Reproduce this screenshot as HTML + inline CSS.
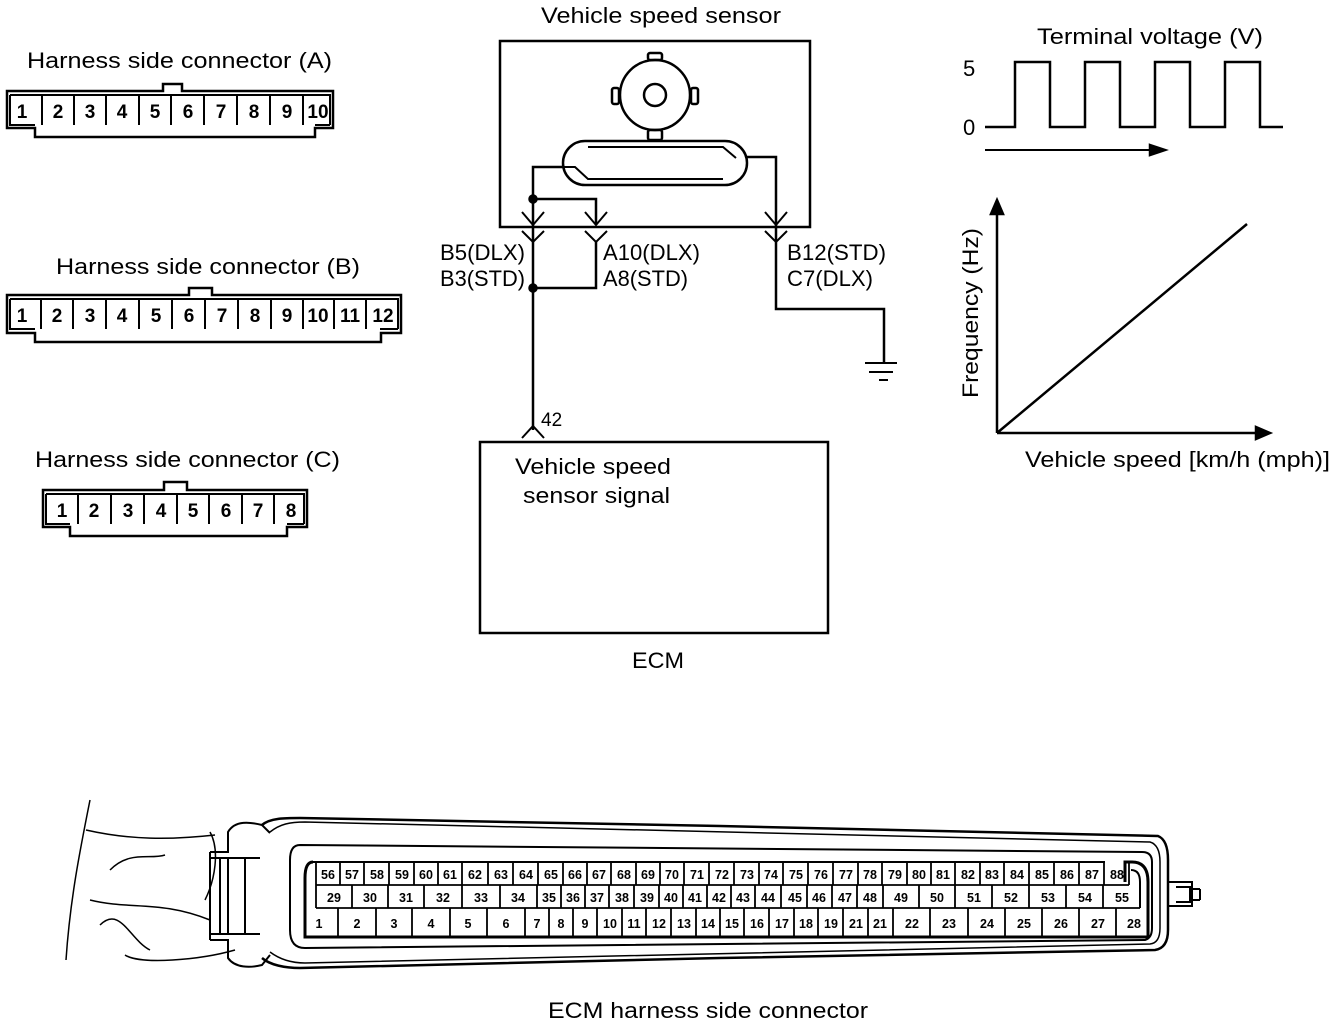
<!DOCTYPE html>
<html><head><meta charset="utf-8"><style>
html,body{margin:0;padding:0;background:#fff}
svg{display:block}
text{font-family:"Liberation Sans",Arial,sans-serif;fill:#000}
.t{font-size:22px}
.p{font-size:19px;font-weight:bold;text-anchor:middle}
.e{font-size:12.5px;font-weight:bold;text-anchor:middle}
</style></head><body>
<svg width="1344" height="1026" viewBox="0 0 1344 1026" xmlns="http://www.w3.org/2000/svg">
<g fill="none" stroke="#000" stroke-width="2.5">
<path d="M7 91 H163 V84 H182 V91 H333 V128 H315 V137 H35 V128 H7 Z"/>
<path d="M10 95 H330 V125 M10 95 V125 H35 M315 125 H330" stroke-width="2"/>
<path d="M42 95V125 M74 95V125 M106 95V125 M139 95V125 M171 95V125 M204 95V125 M237 95V125 M270 95V125 M303 95V125" stroke-width="2"/>
<path d="M7 295 H189 V288 H212 V295 H401 V333 H381 V342 H35 V333 H7 Z"/>
<path d="M10 299 H398 V329 M10 299 V329 H35 M380 329 H398" stroke-width="2"/>
<path d="M41 299V329 M73 299V329 M106 299V329 M139 299V329 M172 299V329 M205 299V329 M238 299V329 M271 299V329 M303 299V329 M334 299V329 M366 299V329" stroke-width="2"/>
<path d="M43 490 H164 V482 H187 V490 H307 V527 H287 V536 H70 V527 H43 Z"/>
<path d="M46 494 H304 V524 M46 494 V524 H70 M287 524 H304" stroke-width="2"/>
<path d="M78 494V524 M111 494V524 M144 494V524 M177 494V524 M209 494V524 M242 494V524 M274 494V524" stroke-width="2"/>

<rect x="500" y="41" width="310" height="186"/>
<circle cx="655" cy="95" r="35"/>
<circle cx="655" cy="95" r="11"/>
<rect x="648" y="53" width="14" height="7" rx="2"/>
<rect x="612" y="88" width="7" height="16" rx="2"/>
<rect x="691" y="88" width="7" height="16" rx="2"/>
<rect x="648" y="130" width="14" height="10" rx="2"/>
<rect x="563" y="141" width="184" height="44" rx="22"/>
<path d="M588 147 H723 L736 158 M563 167 H575 L588 179 H723" stroke-width="2"/>
<path d="M563 167 H533 V288 M533 199 H596 V225 M747 157 H776 V309 H884 V363"/>
<circle cx="533" cy="199" r="3.5" fill="#000"/>
<circle cx="533" cy="288" r="3.5" fill="#000"/>
<path d="M522 212 L533 225 L544 212 M522 231 L533 242 L544 231 M585 212 L596 225 L607 212 M585 231 L596 242 L607 231 M765 212 L776 225 L787 212 M765 231 L776 242 L787 231" stroke-width="2"/>
<path d="M596 242 V288 H533 M533 288 V430"/>
<path d="M522 438 L533 426 L544 438" stroke-width="2"/>
<path d="M865 363 H897 M869 372 H893 M879 380 H888" stroke-width="2"/>
<rect x="480" y="442" width="348" height="191"/>

<path d="M985 127 H1015 V62 H1050 V127 H1085 V62 H1120 V127 H1155 V62 H1190 V127 H1225 V62 H1260 V127 H1283"/>
<path d="M985 150 H1158" stroke-width="2"/>
<path d="M1150 145 L1165 150 L1150 155 Z" fill="#000"/>
<path d="M997 433 V208 M997 433 H1262 M997 433 L1247 224"/>
<path d="M991 214 L997 200 L1003 214 Z M1256 427 L1270 433 L1256 439 Z" fill="#000"/>

<path d="M90 800 C80 850 70 900 66 960 M86 830 C130 840 170 840 215 835 M90 900 C130 910 160 900 210 920 M110 870 C130 850 150 860 165 855 M100 925 C120 905 130 940 150 950 M210 832 C220 850 215 880 205 900 M125 955 C140 965 200 960 235 950" stroke-width="1.5"/>
<path d="M210 852 H228 V832 C235 820 250 822 262 825 L270 833 M210 940 H228 V958 C235 968 250 968 262 965 L270 955" stroke-width="2"/>
<path d="M210 852 V940 M220 858 V934 M228 858 V934 M210 858 H260 M210 934 H260 M245 858 V934" stroke-width="2"/>
<path d="M262 825 C270 818 285 818 300 818 L720 826 L1158 836 Q1168 840 1168 860 V930 Q1168 948 1155 950 L720 958 L300 968 C285 968 270 965 262 958" stroke-width="2.5"/>
<path d="M270 832 C280 824 290 822 305 822 L1150 842 Q1160 845 1160 862 V928 Q1160 943 1150 944 L305 963 C290 963 278 958 270 952" stroke-width="1.5"/>
<path d="M300 845 Q290 845 290 860 V930 Q290 948 305 948 L1145 940 Q1152 938 1152 928 V862 Q1152 852 1142 852 Z" stroke-width="2"/>
<path d="M1168 882 H1192 V889 H1200 M1168 906 H1192 V900 H1200 M1192 889 V900 M1200 889 V900 M1176 887 H1190 V902 H1176" stroke-width="2"/>
<path d="M313 862 Q305 862 305 878 V937 H1148 V882 Q1148 862 1132 862 H1125 V882" stroke-width="3"/>
<path d="M313 862 H1105 M1131 870 Q1140 870 1140 882 V908" stroke-width="2"/>
</g>

<g fill="none" stroke="#000" stroke-width="1.8">
<path d="M316 862 V885 M340 862V885 M364 862V885 M389 862V885 M414 862V885 M438 862V885 M462 862V885 M488 862V885 M513 862V885 M538 862V885 M563 862V885 M587 862V885 M611 862V885 M636 862V885 M660 862V885 M684 862V885 M709 862V885 M734 862V885 M759 862V885 M783 862V885 M808 862V885 M833 862V885 M858 862V885 M882 862V885 M907 862V885 M931 862V885 M955 862V885 M980 862V885 M1004 862V885 M1029 862V885 M1054 862V885 M1079 862V885 M1104 862V885 M1129 862V885"/>
<path d="M316 885 H1129 M316 908 H1140"/>
<path d="M316 885V908 M352 885V908 M388 885V908 M424 885V908 M462 885V908 M500 885V908 M537 885V908 M561 885V908 M585 885V908 M609 885V908 M634 885V908 M659 885V908 M683 885V908 M707 885V908 M731 885V908 M755 885V908 M781 885V908 M807 885V908 M832 885V908 M857 885V908 M883 885V908 M919 885V908 M955 885V908 M992 885V908 M1029 885V908 M1066 885V908 M1103 885V908"/>
<path d="M338 908V937 M376 908V937 M412 908V937 M450 908V937 M487 908V937 M525 908V937 M549 908V937 M573 908V937 M597 908V937 M622 908V937 M646 908V937 M671 908V937 M696 908V937 M720 908V937 M744 908V937 M769 908V937 M794 908V937 M818 908V937 M843 908V937 M868 908V937 M893 908V937 M930 908V937 M968 908V937 M1005 908V937 M1042 908V937 M1079 908V937 M1116 908V937"/>
</g>

<text class="t" x="27" y="68" textLength="305" lengthAdjust="spacingAndGlyphs">Harness side connector (A)</text>
<text class="t" x="56" y="274" textLength="304" lengthAdjust="spacingAndGlyphs">Harness side connector (B)</text>
<text class="t" x="35" y="467" textLength="305" lengthAdjust="spacingAndGlyphs">Harness side connector (C)</text>
<g class="p">
<text x="22" y="118">1</text><text x="58" y="118">2</text><text x="90" y="118">3</text><text x="122" y="118">4</text><text x="155" y="118">5</text><text x="188" y="118">6</text><text x="221" y="118">7</text><text x="254" y="118">8</text><text x="287" y="118">9</text><text x="318" y="118">10</text>
<text x="22" y="322">1</text><text x="57" y="322">2</text><text x="90" y="322">3</text><text x="122" y="322">4</text><text x="156" y="322">5</text><text x="189" y="322">6</text><text x="222" y="322">7</text><text x="255" y="322">8</text><text x="287" y="322">9</text><text x="318" y="322">10</text><text x="350" y="322">11</text><text x="383" y="322">12</text>
<text x="62" y="517">1</text><text x="94" y="517">2</text><text x="128" y="517">3</text><text x="161" y="517">4</text><text x="193" y="517">5</text><text x="226" y="517">6</text><text x="258" y="517">7</text><text x="291" y="517">8</text>
</g>
<text class="t" x="541" y="23" textLength="240" lengthAdjust="spacingAndGlyphs">Vehicle speed sensor</text>
<text class="t" x="440" y="260" textLength="85" lengthAdjust="spacingAndGlyphs">B5(DLX)</text>
<text class="t" x="440" y="286" textLength="85" lengthAdjust="spacingAndGlyphs">B3(STD)</text>
<text class="t" x="603" y="260" textLength="97" lengthAdjust="spacingAndGlyphs">A10(DLX)</text>
<text class="t" x="603" y="286" textLength="85" lengthAdjust="spacingAndGlyphs">A8(STD)</text>
<text class="t" x="787" y="260" textLength="99" lengthAdjust="spacingAndGlyphs">B12(STD)</text>
<text class="t" x="787" y="286" textLength="86" lengthAdjust="spacingAndGlyphs">C7(DLX)</text>
<text class="t" x="541" y="426" style="font-size:19px">42</text>
<text class="t" x="515" y="474" textLength="156" lengthAdjust="spacingAndGlyphs">Vehicle speed</text>
<text class="t" x="523" y="503" textLength="147" lengthAdjust="spacingAndGlyphs">sensor signal</text>
<text class="t" x="632" y="668" textLength="52" lengthAdjust="spacingAndGlyphs">ECM</text>
<text class="t" x="1037" y="44" textLength="226" lengthAdjust="spacingAndGlyphs">Terminal voltage (V)</text>
<text class="t" x="963" y="76">5</text>
<text class="t" x="963" y="135">0</text>
<text class="t" x="0" y="0" textLength="170" lengthAdjust="spacingAndGlyphs" transform="translate(978 398) rotate(-90)">Frequency (Hz)</text>
<text class="t" x="1025" y="467" textLength="305" lengthAdjust="spacingAndGlyphs">Vehicle speed [km/h (mph)]</text>
<text class="t" x="548" y="1018" textLength="320" lengthAdjust="spacingAndGlyphs">ECM harness side connector</text>

<g class="e">
<text x="328" y="879">56</text><text x="352" y="879">57</text><text x="377" y="879">58</text><text x="402" y="879">59</text><text x="426" y="879">60</text><text x="450" y="879">61</text><text x="475" y="879">62</text><text x="501" y="879">63</text><text x="526" y="879">64</text><text x="551" y="879">65</text><text x="575" y="879">66</text><text x="599" y="879">67</text><text x="624" y="879">68</text><text x="648" y="879">69</text><text x="672" y="879">70</text><text x="697" y="879">71</text><text x="722" y="879">72</text><text x="747" y="879">73</text><text x="771" y="879">74</text><text x="796" y="879">75</text><text x="821" y="879">76</text><text x="846" y="879">77</text><text x="870" y="879">78</text><text x="895" y="879">79</text><text x="919" y="879">80</text><text x="943" y="879">81</text><text x="968" y="879">82</text><text x="992" y="879">83</text><text x="1017" y="879">84</text><text x="1042" y="879">85</text><text x="1067" y="879">86</text><text x="1092" y="879">87</text><text x="1117" y="879">88</text>
<text x="334" y="902">29</text><text x="370" y="902">30</text><text x="406" y="902">31</text><text x="443" y="902">32</text><text x="481" y="902">33</text><text x="518" y="902">34</text><text x="549" y="902">35</text><text x="573" y="902">36</text><text x="597" y="902">37</text><text x="622" y="902">38</text><text x="647" y="902">39</text><text x="671" y="902">40</text><text x="695" y="902">41</text><text x="719" y="902">42</text><text x="743" y="902">43</text><text x="768" y="902">44</text><text x="795" y="902">45</text><text x="819" y="902">46</text><text x="845" y="902">47</text><text x="870" y="902">48</text><text x="901" y="902">49</text><text x="937" y="902">50</text><text x="974" y="902">51</text><text x="1011" y="902">52</text><text x="1048" y="902">53</text><text x="1085" y="902">54</text><text x="1122" y="902">55</text>
<text x="319" y="928">1</text><text x="357" y="928">2</text><text x="394" y="928">3</text><text x="431" y="928">4</text><text x="468" y="928">5</text><text x="506" y="928">6</text><text x="537" y="928">7</text><text x="561" y="928">8</text><text x="585" y="928">9</text><text x="610" y="928">10</text><text x="634" y="928">11</text><text x="659" y="928">12</text><text x="684" y="928">13</text><text x="708" y="928">14</text><text x="732" y="928">15</text><text x="757" y="928">16</text><text x="782" y="928">17</text><text x="806" y="928">18</text><text x="831" y="928">19</text><text x="856" y="928">21</text><text x="880" y="928">21</text><text x="912" y="928">22</text><text x="949" y="928">23</text><text x="987" y="928">24</text><text x="1024" y="928">25</text><text x="1061" y="928">26</text><text x="1098" y="928">27</text><text x="1134" y="928">28</text>
</g>
</svg>
</body></html>
